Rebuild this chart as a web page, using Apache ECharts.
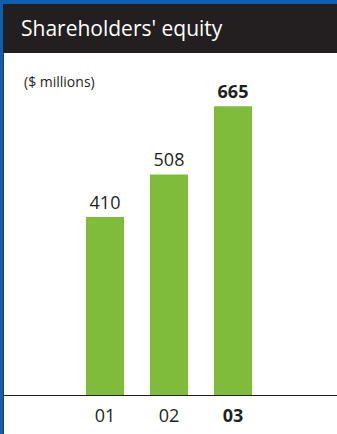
<!DOCTYPE html>
<html>
<head>
<meta charset="utf-8">
<script src="https://cdn.jsdelivr.net/npm/echarts@6/dist/echarts.min.js"></script>
<style>
  html, body { margin: 0; padding: 0; background: #fff; }
  #chart { width: 337px; height: 434px; }
</style>
</head>
<body>
<div id="chart"></div>
<script>
// Fiscal years shown on the category axis
var years = ['01', '02', '03'];
// Shareholders' equity, $ millions
var equity = [410, 508, 665];
// Heading texts
var titleText = "Shareholders' equity";
var unitText = '($ millions)';

var FONT = "'Open Sans', 'Noto Sans', sans-serif";
var lastIdx = years.length - 1;

var chart = echarts.init(document.getElementById('chart'), null, { renderer: 'svg' });

chart.setOption({
  animation: false,
  backgroundColor: '#ffffff',
  graphic: [
    // blue frame edges
    { type: 'rect', shape: { x: 0, y: 0, width: 337, height: 4 }, style: { fill: '#0c5fb3' }, z: 0 },
    { type: 'rect', shape: { x: 0, y: 0, width: 3, height: 434 }, style: { fill: '#0c5fb3' }, z: 0 },
    { type: 'rect', shape: { x: 3, y: 4, width: 1, height: 430 }, style: { fill: '#3a3a3a' }, z: 0 },
    // dark heading band
    { type: 'rect', shape: { x: 3, y: 4, width: 334, height: 49 }, style: { fill: '#231f20' }, z: 1 },
    // baseline across the panel
    { type: 'line', shape: { x1: 3, y1: 395.5, x2: 337, y2: 395.5 }, style: { stroke: '#231f20', lineWidth: 1 }, z: 10 }
  ],
  title: [
    {
      text: titleText,
      left: 16, top: 12,
      textStyle: { color: '#ffffff', fontSize: 21, fontWeight: 'normal', fontFamily: FONT }
    },
    {
      text: unitText,
      left: 19, top: 69,
      textStyle: { color: '#231f20', fontSize: 14, fontWeight: 'normal', fontFamily: FONT }
    }
  ],
  grid: { left: 73, width: 192, top: 91, bottom: 39, containLabel: false },
  xAxis: {
    type: 'category',
    data: years,
    axisLine: { show: false },
    axisTick: { show: false },
    axisLabel: {
      interval: 0,
      margin: 11,
      color: '#231f20',
      fontSize: 18,
      fontFamily: FONT,
      formatter: function (v, i) { return i === lastIdx ? '{b|' + v + '}' : v; },
      rich: { b: { fontWeight: 'bold', fontSize: 18, color: '#231f20', fontFamily: FONT } }
    }
  },
  yAxis: {
    type: 'value',
    min: 0, max: 700,
    show: false,
    splitLine: { show: false }
  },
  series: [{
    type: 'bar',
    barWidth: 38,
    itemStyle: { color: '#80bc3c' },
    label: {
      show: true,
      position: 'top',
      distance: 6,
      color: '#231f20',
      fontSize: 18,
      fontFamily: FONT
    },
    data: equity.map(function (v, i) {
      return i === lastIdx ? { value: v, label: { fontWeight: 'bold' } } : v;
    })
  }]
});
</script>
</body>
</html>
